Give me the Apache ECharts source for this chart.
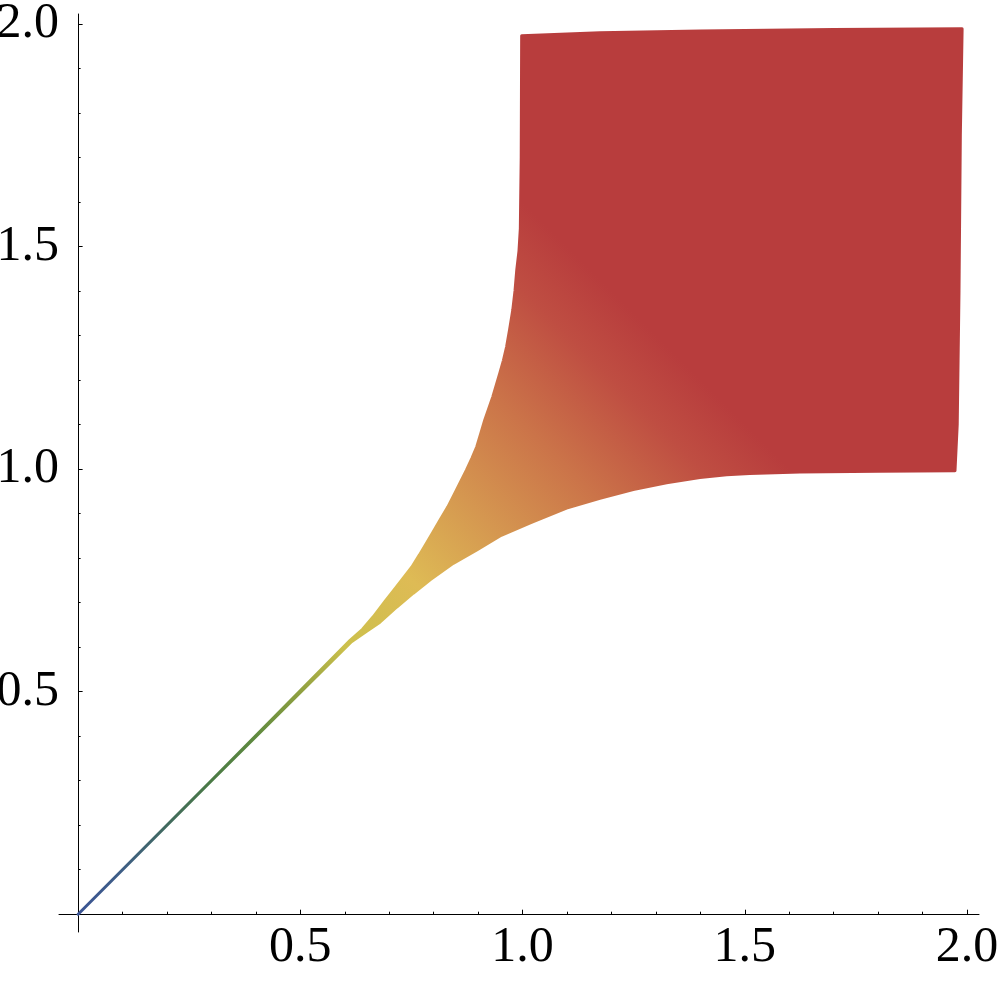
<!DOCTYPE html>
<html>
<head>
<meta charset="utf-8">
<script src="https://cdn.jsdelivr.net/npm/echarts@6/dist/echarts.min.js"></script>
<style>
html,body{margin:0;padding:0;background:#fff;}
#chart{width:1000px;height:981px;}
</style>
</head>
<body>
<div id="chart"></div>
<script>
// ---- data ----
// lower boundary of the region (left to right)
const lowerX = [0, 0.30, 0.615, 0.650, 0.679, 0.717, 0.754, 0.792, 0.844, 0.897, 0.952, 1.020, 1.099, 1.174, 1.249, 1.324, 1.399, 1.459, 1.511, 1.624, 1.800, 1.973];
const lowerY = [0, 0.30, 0.612, 0.636, 0.656, 0.690, 0.721, 0.751, 0.788, 0.818, 0.851, 0.880, 0.912, 0.934, 0.954, 0.969, 0.981, 0.987, 0.990, 0.993, 0.995, 0.996];
// right edge (bottom to top)
const rightX = [1.978, 1.982, 1.985, 1.989];
const rightY = [1.10, 1.40, 1.75, 1.989];
// top edge (right to left)
const topX = [1.700, 1.400, 1.174, 0.998];
const topY = [1.987, 1.984, 1.980, 1.973];
// left boundary (top to bottom)
const leftX = [0.997, 0.995, 0.992, 0.987, 0.983, 0.978, 0.971, 0.964, 0.957, 0.949, 0.941, 0.933, 0.924, 0.915, 0.906, 0.897, 0.886, 0.874, 0.861, 0.848, 0.832, 0.814, 0.799, 0.784, 0.768, 0.751, 0.734, 0.717, 0.690, 0.664, 0.640, 0.612, 0.30, 0];
const leftY = [1.700, 1.540, 1.490, 1.447, 1.400, 1.357, 1.314, 1.274, 1.244, 1.216, 1.189, 1.162, 1.136, 1.110, 1.080, 1.050, 1.024, 0.998, 0.972, 0.946, 0.915, 0.885, 0.859, 0.834, 0.807, 0.780, 0.758, 0.736, 0.702, 0.668, 0.640, 0.615, 0.30, 0];
// colour along x + y
const colorSum = [0, 0.2, 0.4, 0.6, 0.8, 1.0, 1.2, 1.5, 1.8, 2.1, 2.4, 2.6];
const colorHex = ['#3B5494', '#3E5E85', '#416A5E', '#4A7A45', '#5F8A3F', '#8FA040', '#CCC04C', '#DEBB55', '#D59750', '#CB7449', '#BF4E42', '#B83D3D'];
// ticks
const majorTicks = [0.5, 1.0, 1.5, 2.0];
const minorTicks = [0.1, 0.2, 0.3, 0.4, 0.6, 0.7, 0.8, 0.9, 1.1, 1.2, 1.3, 1.4, 1.6, 1.7, 1.8, 1.9];

const chart = echarts.init(document.getElementById('chart'), null, {renderer: 'canvas'});

const boundary = [];
for (let i = 0; i < lowerX.length; i++) boundary.push([lowerX[i], lowerY[i]]);
for (let i = 0; i < rightX.length; i++) boundary.push([rightX[i], rightY[i]]);
for (let i = 0; i < topX.length; i++) boundary.push([topX[i], topY[i]]);
for (let i = 0; i < leftX.length; i++) boundary.push([leftX[i], leftY[i]]);

const sumMax = colorSum[colorSum.length - 1];
const stops = colorSum.map((s, i) => ({offset: s / sumMax, color: colorHex[i]}));

const fontFam = '"Liberation Serif", "Times New Roman", serif';
const labelCommon = {
  fontFamily: fontFam, fontSize: 50, color: '#000',
  customValues: majorTicks,
  formatter: v => Number(v).toFixed(1)
};

const option = {
  backgroundColor: '#fff',
  animation: false,
  grid: {left: 59, right: 21, top: 14, bottom: 49, containLabel: false, outerBoundsMode: 'none'},
  xAxis: [{
    type: 'value', min: -0.043, max: 2.027, position: 'bottom',
    axisLine: {show: true, onZero: true, lineStyle: {color: '#000', width: 1}},
    axisTick: {show: true, inside: true, length: 4.5, customValues: majorTicks, lineStyle: {color: '#000', width: 1}},
    axisLabel: Object.assign({margin: -9, verticalAlign: 'top', hideOverlap: false}, labelCommon),
    splitLine: {show: false}
  }, {
    type: 'value', min: -0.043, max: 2.027, position: 'bottom',
    axisLine: {show: false, onZero: true},
    axisTick: {show: true, inside: true, length: 2.5, customValues: minorTicks, lineStyle: {color: '#000', width: 1}},
    axisLabel: {show: false},
    splitLine: {show: false}
  }],
  yAxis: [{
    type: 'value', min: -0.04, max: 2.022, position: 'left',
    axisLine: {show: true, onZero: true, lineStyle: {color: '#000', width: 1}},
    axisTick: {show: true, inside: true, length: 4.5, customValues: majorTicks, lineStyle: {color: '#000', width: 1}},
    axisLabel: Object.assign({margin: 0, verticalAlign: 'middle', padding: [0, 0, 14, 0], hideOverlap: false}, labelCommon),
    splitLine: {show: false}
  }, {
    type: 'value', min: -0.04, max: 2.022, position: 'left',
    axisLine: {show: false, onZero: true},
    axisTick: {show: true, inside: true, length: 2.5, customValues: minorTicks, lineStyle: {color: '#000', width: 1}},
    axisLabel: {show: false},
    splitLine: {show: false}
  }],
  series: [{
    type: 'custom',
    coordinateSystem: 'cartesian2d',
    xAxisIndex: 0, yAxisIndex: 0,
    data: [[0, 0]],
    silent: true,
    renderItem: function (params, api) {
      const pts = boundary.map(p => api.coord(p));
      const p0 = api.coord([0, 0]);
      const p1 = api.coord([sumMax / 2, sumMax / 2]);
      const grad = new echarts.graphic.LinearGradient(p0[0], p0[1], p1[0], p1[1], stops, true);
      return {
        type: 'polygon',
        shape: {points: pts},
        style: {fill: grad, stroke: grad, lineWidth: 3, lineJoin: 'round'}
      };
    }
  }]
};
chart.setOption(option);
</script>
</body>
</html>
